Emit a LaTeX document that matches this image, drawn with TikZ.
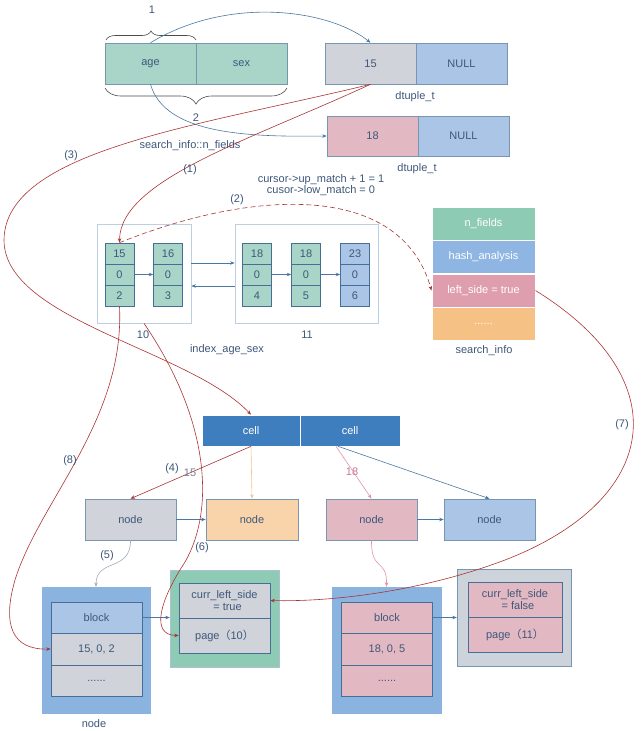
\documentclass[tikz,border=0pt]{standalone}
\usepackage{fontspec}
\setmainfont{Liberation Sans}
\newfontfamily\cjk{Noto Sans CJK SC}
\usetikzlibrary{arrows.meta,decorations.pathreplacing}
\definecolor{txt}{RGB}{62,88,122}
\definecolor{bord}{RGB}{120,150,178}
\definecolor{dbord}{RGB}{70,110,150}
\definecolor{gfill}{RGB}{169,213,200}
\definecolor{grayf}{RGB}{208,211,217}
\definecolor{bluef}{RGB}{171,197,230}
\definecolor{pinkf}{RGB}{226,184,194}
\definecolor{orangef}{RGB}{249,212,170}
\definecolor{cellf}{RGB}{62,126,190}
\definecolor{redc}{RGB}{170,52,52}
\definecolor{bluec}{RGB}{74,120,162}
\definecolor{pagec}{RGB}{188,208,226}
\definecolor{sgreen}{RGB}{141,203,180}
\definecolor{sblue}{RGB}{143,181,227}
\definecolor{spink}{RGB}{222,158,174}
\definecolor{sorange}{RGB}{246,193,132}
\definecolor{outblue}{RGB}{139,179,224}
\definecolor{outgreen}{RGB}{141,203,180}
\definecolor{outgray}{RGB}{205,211,219}
\begin{document}
\begin{tikzpicture}[x=1pt,y=-1pt,
  every node/.style={font=\fontsize{11}{12.5}\selectfont,text=txt},
  box/.style={draw=bord,line width=0.6pt,inner sep=0pt,minimum width=91pt,minimum height=41pt},
  idx/.style={draw=dbord,line width=0.6pt,fill=gfill,inner sep=0pt,minimum width=29pt,minimum height=21pt},
  pagebox/.style={draw=pagec,line width=0.8pt,inner sep=0pt},
  sinfo/.style={draw=white,line width=1pt,inner sep=0pt,minimum width=103pt,minimum height=33pt,text=white},
  cellbox/.style={fill=cellf,draw=white,line width=0.6pt,inner sep=0pt,minimum height=31pt,text=white},
  inner/.style={draw=dbord,line width=0.6pt,inner sep=0pt,minimum width=91pt},
  lab/.style={inner sep=1pt},
  redline/.style={draw=redc,line width=0.6pt,-{Stealth[length=4.5pt,width=3.5pt]}},
  blueline/.style={draw=bluec,line width=0.6pt,-{Stealth[length=4.5pt,width=3.5pt]}},
  brc/.style={draw=black!70,line width=0.6pt,decorate,decoration={brace,amplitude=#1}}
]
\useasboundingbox (0,0) rectangle (640,731);
\fill[white] (0,0) rectangle (640,731);

% ---------- top tuples
\node[box,fill=gfill] (age) at (150.5,63.5) {age};
\node[box,fill=gfill] (sex) at (241.5,63.5) {sex};
\node[box,fill=grayf] (d15) at (370.5,63.5) {15};
\node[box,fill=bluef] (dn1) at (461.5,63.5) {NULL};
\node[box,fill=pinkf,minimum height=40pt] (d18) at (372.5,136) {18};
\node[box,fill=bluef,minimum height=40pt] (dn2) at (463.5,136) {NULL};
\node[lab] (dt1) at (415,97) {dtuple\_t};
\node[lab] (dt2) at (417,169) {dtuple\_t};

\draw[brc=9pt] (106,40) -- (196,40);
\draw[brc=16pt] (287,88) -- (105,88);
\node[lab] (one) at (152,10) {1};
\node[lab] (two) at (196,118) {2};
\node[lab] (snf) at (190,146) {search\_info::n\_fields};

\draw[blueline] (age.north) .. controls (230,-5) and (330,10) .. (d15.north);
\draw[blueline] (age.south) .. controls (165,135) and (250,137) .. (d18.west);

% ---------- index pages
\node[pagebox,minimum width=94pt,minimum height=99pt] (pg10) at (144,273.5) {};
\node[pagebox,minimum width=143pt,minimum height=99pt] (pg11) at (306.5,273.5) {};
\foreach \n/\x/\a/\b/\c/\f in {c1/119.5/15/0/2/gfill,c2/168/16/0/3/gfill,c3/257/18/0/4/gfill,c4/306/18/0/5/gfill,c5/355/23/0/6/bluef}{
  \node[idx,fill=\f] (\n r1) at (\x,253.5) {\a};
  \node[idx,fill=\f] (\n r2) at (\x,274.5) {\b};
  \node[idx,fill=\f] (\n r3) at (\x,295.5) {\c};
}
\draw[blueline] (c1r2.east) -- (c2r2.west);
\draw[blueline] (c3r2.east) -- (c4r2.west);
\draw[blueline] (c4r2.east) -- (c5r2.west);
\draw[blueline] ([yshift=10.5pt]pg10.east) -- ([yshift=10.5pt]pg11.west);
\draw[blueline] ([yshift=-12.5pt]pg11.west) -- ([yshift=-12.5pt]pg10.east);
\node[lab] (l10) at (143,335) {10};
\node[lab] (l11) at (307,335) {11};
\node[lab] (ias) at (227,350) {index\_age\_sex};
\node[lab,align=center] (cur) at (321,185.5) {cursor->up\_match + 1 = 1\\[-1.5pt]cusor->low\_match = 0};

% ---------- search_info
\node[sinfo,fill=sgreen] (nf) at (483.5,224) {n\_fields};
\node[sinfo,fill=sblue] (ha) at (483.5,257) {hash\_analysis};
\node[sinfo,fill=spink] (ls) at (483.5,290.5) {left\_side = true};
\node[sinfo,fill=sorange] (dots) at (483.5,323.5) {......};
\node[lab] (si) at (484,351) {search\_info};

% ---------- cells
\node[cellbox,minimum width=98pt] (cellA) at (251,430.5) {cell};
\node[cellbox,minimum width=100pt] (cellB) at (350,430.5) {cell};

% ---------- nodes
\node[box,fill=grayf] (nGray) at (130.5,519.5) {node};
\node[box,fill=orangef,minimum width=92pt] (nOrange) at (252,519.5) {node};
\node[box,fill=pinkf] (nPink) at (371.5,519.5) {node};
\node[box,fill=bluef] (nBlue) at (489.5,519.5) {node};
\draw[blueline] (nGray.east) -- (nOrange.west);
\draw[blueline] (nPink.east) -- (nBlue.west);
\draw[draw={rgb,255:red,240;green,196;blue,150},line width=0.6pt,-{Stealth[length=4.5pt,width=3.5pt]}] (cellA.south) -- (nOrange.north);
\draw[redline] (cellA.south) -- (nGray.north);
\draw[draw={rgb,255:red,220;green,150;blue,168},line width=0.6pt,-{Stealth[length=4.5pt,width=3.5pt]}] ([xshift=-14pt]cellB.south) -- (nPink.north);
\draw[blueline] ([xshift=-12pt]cellB.south) -- (nBlue.north);
\node[lab] (l4) at (172,469) {(4)};
\node[lab,text={rgb,255:red,120;green,130;blue,145}] (l15) at (190,473) {15};
\node[lab,text={rgb,255:red,205;green,120;blue,145}] (l18) at (352,472) {18};

% ---------- bottom left
\node[fill=outblue,draw=outblue,inner sep=0pt,minimum width=108pt,minimum height=126pt] (outL) at (96,650) {};
\node[inner,fill=bluef,minimum height=31pt] (blockL) at (96.5,617.5) {block};
\node[inner,fill=grayf,minimum height=32pt] (keyL) at (96.5,649) {15, 0, 2};
\node[inner,fill=grayf,minimum height=31pt] (dotL) at (96.5,680.5) {......};
\node[lab] (nodeL) at (94,724) {node};
\node[fill=outgreen,draw=bord!60,inner sep=0pt,minimum width=109pt,minimum height=97pt] (outCL) at (224.5,618.5) {};
\node[inner,fill=grayf,minimum height=35pt,align=center] (clsL) at (224.5,600.5) {curr\_left\_side\\[-1pt]\hspace*{6pt}= true};
\node[inner,fill=grayf,minimum height=35pt] (pgL) at (224.5,635.5) {page{\cjk （}10{\cjk ）}};
\draw[blueline] (blockL.east) -- (outCL.west |- blockL.east);

% ---------- bottom right
\node[fill=outblue,draw=outblue,inner sep=0pt,minimum width=109pt,minimum height=126pt] (outR) at (386.5,650) {};
\node[inner,fill=pinkf,minimum height=31pt] (blockR) at (387,617.5) {block};
\node[inner,fill=pinkf,minimum height=32pt] (keyR) at (387,649) {18, 0, 5};
\node[inner,fill=pinkf,minimum height=31pt] (dotR) at (387,680.5) {......};
\node[fill=outgray,draw=bord,inner sep=0pt,minimum width=114pt,minimum height=97pt] (outCR) at (514,617.5) {};
\node[inner,fill=pinkf,minimum width=94pt,minimum height=35pt,align=center] (clsR) at (515,599.5) {curr\_left\_side\\[-1pt]\hspace*{6pt}= false};
\node[inner,fill=pinkf,minimum width=94pt,minimum height=35pt] (pgR) at (515,634.5) {page{\cjk （}11{\cjk ）}};
\draw[blueline] (blockR.east) -- (outCR.west |- blockR.east);

% ---------- gray / pink S curves
\draw[draw={rgb,255:red,165;green,172;blue,182},line width=0.6pt,-{Stealth[length=4.5pt,width=3.5pt]}] (nGray.south) .. controls (131,572) and (96,558) .. (outL.north);
\draw[draw={rgb,255:red,220;green,150;blue,168},line width=0.6pt,-{Stealth[length=4.5pt,width=3.5pt]}] (nPink.south) .. controls (371,572) and (387,558) .. (outR.north);
\node[lab] (l5) at (107,556) {(5)};

% ---------- red curves
\draw[redline] (d15.south) .. controls (250,140) and (120,180) .. (c1r1.north);
\node[lab] (l1) at (190,170) {(1)};
\draw[redline] (d15.south) .. controls (200,126) and (5,150) .. (4,240) .. controls (4,320) and (190,350) .. (cellA.north);
\node[lab] (l3) at (71,156) {(3)};
\draw[redline,dash pattern=on 5pt off 3pt] (c1r1.north) .. controls (250,190) and (400,180) .. (ls.west);
\node[lab] (l2) at (237,200) {(2)};
\draw[redline] (pg10.south) .. controls (210,420) and (215,510) .. (185,562) .. controls (160,600) and (150,635) .. (pgL.west);
\node[lab] (l6) at (202,548) {(6)};
\draw[redline] (c1r3.south) .. controls (125,420) and (40,500) .. (15,580) .. controls (2,625) and (12,650) .. (keyL.west);
\node[lab] (l8) at (70,461) {(8)};
\draw[redline] (ls.east) .. controls (680,380) and (660,500) .. (505,560) .. controls (420,592) and (330,602) .. (clsL.east);
\node[lab] (l7) at (622,425) {(7)};
\end{tikzpicture}
\end{document}
